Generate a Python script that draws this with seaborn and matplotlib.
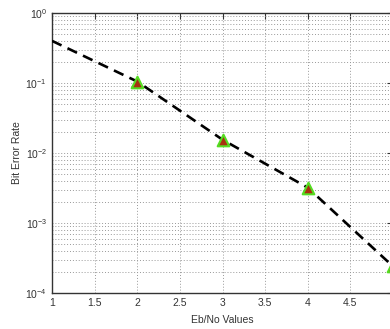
import matplotlib
matplotlib.use("Agg")
import matplotlib.pyplot as plt
import matplotlib.ticker as mticker
import seaborn as sns
import pandas as pd
import numpy as np

eb_no = [1, 2, 3, 4, 5]
ber = [0.4, 0.105, 0.0155, 0.0032, 0.00024]
marker_x = [2, 3, 4, 5]
marker_y = [0.105, 0.0155, 0.0032, 0.00024]
x_ticks = [1, 1.5, 2, 2.5, 3, 3.5, 4, 4.5, 5]
x_tick_labels = ["1", "1.5", "2", "2.5", "3", "3.5", "4", "4.5", ""]

sns.set_style("white")
plt.rcParams['font.family'] = ['Liberation Sans', 'DejaVu Sans']
plt.rcParams['mathtext.fontset'] = 'custom'
plt.rcParams['mathtext.rm'] = 'Liberation Sans'

fig = plt.figure(figsize=(3.9, 3.29), dpi=100)
ax = fig.add_axes([52/390, 36/329, 341/390, 280/329])

df_line = pd.DataFrame({"x": eb_no, "y": ber})
df_mark = pd.DataFrame({"x": marker_x, "y": marker_y})

sns.lineplot(data=df_line, x="x", y="y", ax=ax, color="black",
             linestyle=(0, (4, 2.5)), linewidth=1.9, zorder=3)
sns.scatterplot(data=df_mark, x="x", y="y", ax=ax, marker="^", s=70,
                color="#a83010", edgecolor="#55dd22", linewidth=1.5, zorder=4)

ax.set_yscale("log")
ax.set_ylim(1e-4, 1)
ax.set_xlim(1, 5)
ax.set_xticks(x_ticks)
ax.set_xticklabels(x_tick_labels)
ax.yaxis.set_major_locator(mticker.LogLocator(base=10, numticks=10))
ax.yaxis.set_minor_locator(mticker.LogLocator(base=10, subs=np.arange(2, 10), numticks=20))
ax.yaxis.set_minor_formatter(mticker.NullFormatter())

ax.grid(True, which="major", axis="both", linestyle=(0, (1, 2)), color="#999999", linewidth=0.7)
ax.grid(True, which="minor", axis="y", linestyle=(0, (1, 2)), color="#999999", linewidth=0.7)

ax.tick_params(axis="both", which="both", direction="in", labelsize=7.5, colors="#333333",
               top=True, right=True)
ax.tick_params(which="major", length=4)
ax.tick_params(which="minor", length=2)
for s in ax.spines.values():
    s.set_color("#333333")
    s.set_linewidth(1.0)

ax.set_xlabel("Eb/No Values", fontsize=7.5, color="#333333", labelpad=5)
ax.set_ylabel("Bit Error Rate", fontsize=7.5, color="#333333")
ax.yaxis.set_label_coords(-0.088, 0.5)

fig.savefig("out.png", dpi=100)
